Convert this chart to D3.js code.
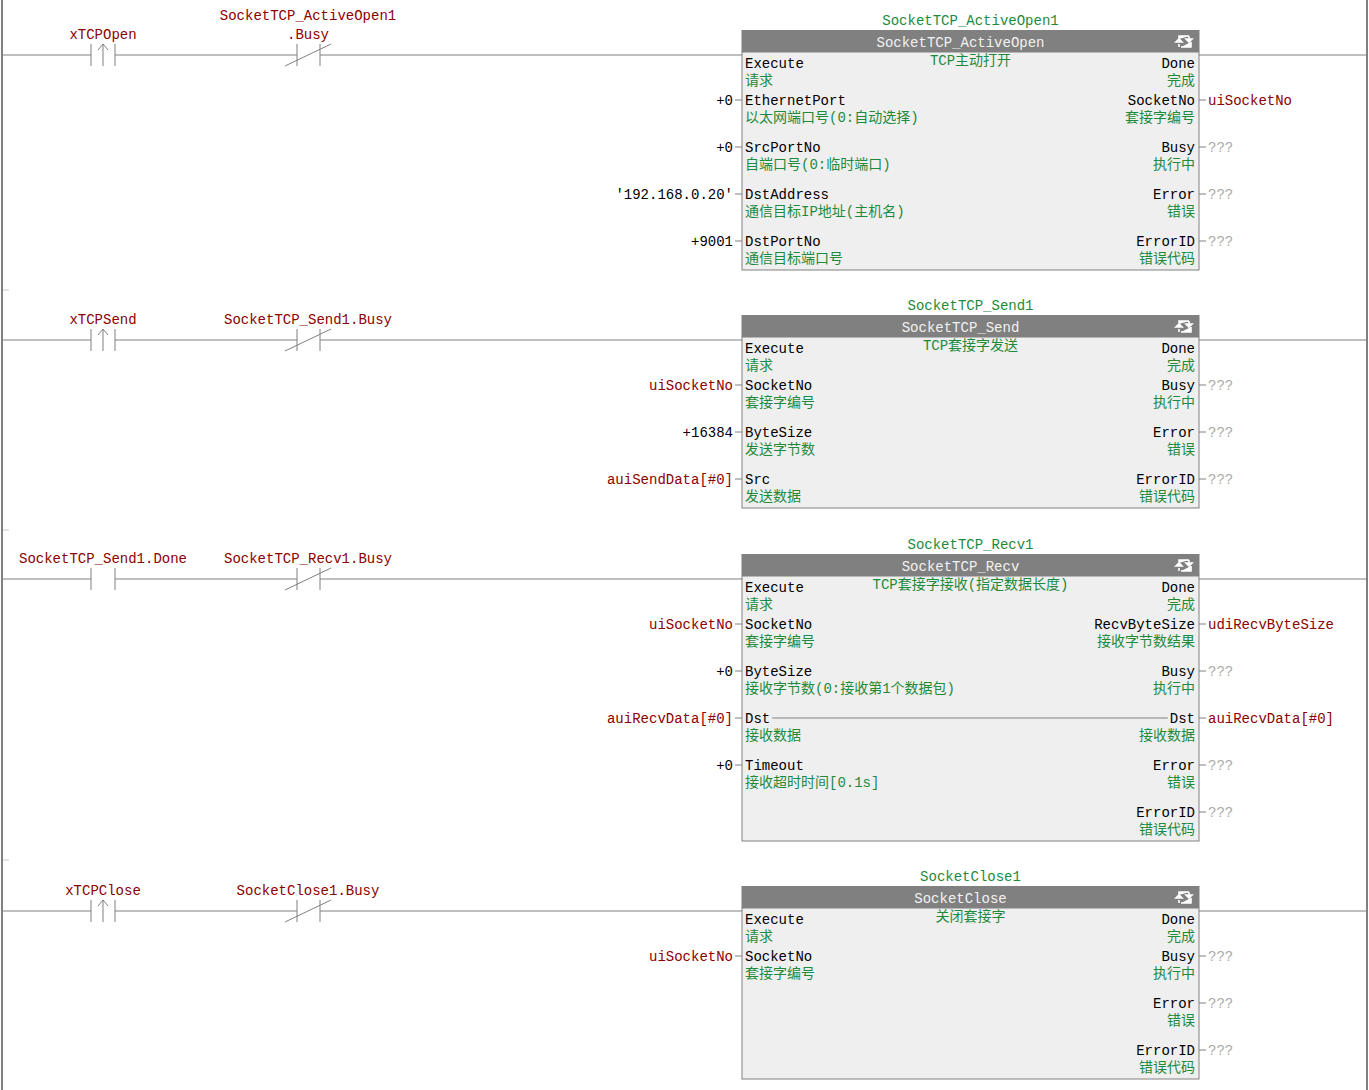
<!DOCTYPE html>
<html><head><meta charset="utf-8">
<script src="https://cdn.jsdelivr.net/npm/d3@7"></script>
<style>body{margin:0;background:#fff}svg text{font-family:"Liberation Mono","Noto Sans CJK SC",monospace;font-size:14px}</style>
</head><body><svg id="c" width="1369" height="1090"></svg>
<script>
// ---- data ----
const rungLines = [55, 340, 579, 911];
const rungSeparators = [290, 530, 860];
const contacts = [
  [{label:["xTCPOpen"], type:"rise"}, {label:["SocketTCP_ActiveOpen1", ".Busy"], type:"nc"}],
  [{label:["xTCPSend"], type:"rise"}, {label:["SocketTCP_Send1.Busy"], type:"nc"}],
  [{label:["SocketTCP_Send1.Done"], type:"no"}, {label:["SocketTCP_Recv1.Busy"], type:"nc"}],
  [{label:["xTCPClose"], type:"rise"}, {label:["SocketClose1.Busy"], type:"nc"}]
];
const instanceNames = ["SocketTCP_ActiveOpen1", "SocketTCP_Send1", "SocketTCP_Recv1", "SocketClose1"];
const blockTypes = ["SocketTCP_ActiveOpen", "SocketTCP_Send", "SocketTCP_Recv", "SocketClose"];
const blockComments = ["TCP主动打开", "TCP套接字发送", "TCP套接字接收(指定数据长度)", "关闭套接字"];
const inputs = [
  [["Execute","请求",null],["EthernetPort","以太网端口号(0:自动选择)","+0"],["SrcPortNo","自端口号(0:临时端口)","+0"],["DstAddress","通信目标IP地址(主机名)","'192.168.0.20'"],["DstPortNo","通信目标端口号","+9001"]],
  [["Execute","请求",null],["SocketNo","套接字编号","uiSocketNo"],["ByteSize","发送字节数","+16384"],["Src","发送数据","auiSendData[#0]"]],
  [["Execute","请求",null],["SocketNo","套接字编号","uiSocketNo"],["ByteSize","接收字节数(0:接收第1个数据包)","+0"],["Dst","接收数据","auiRecvData[#0]"],["Timeout","接收超时时间[0.1s]","+0"]],
  [["Execute","请求",null],["SocketNo","套接字编号","uiSocketNo"]]
];
const outputs = [
  [["Done","完成",null],["SocketNo","套接字编号","uiSocketNo"],["Busy","执行中","???"],["Error","错误","???"],["ErrorID","错误代码","???"]],
  [["Done","完成",null],["Busy","执行中","???"],["Error","错误","???"],["ErrorID","错误代码","???"]],
  [["Done","完成",null],["RecvByteSize","接收字节数结果","udiRecvByteSize"],["Busy","执行中","???"],["Dst","接收数据","auiRecvData[#0]"],["Error","错误","???"],["ErrorID","错误代码","???"]],
  [["Done","完成",null],["Busy","执行中","???"],["Error","错误","???"],["ErrorID","错误代码","???"]]
];
// ---- drawing ----
const svg = d3.select("#c");
const W = 1369, H = 1090;
const LINE = "#808080", RED = "#8b0000", GREEN = "#1e8a3c";
const x = d3.scaleLinear().domain([0,1]).range([742,1199]); // block span
const contactX = [103, 308];
const rowY = i => i === 0 ? 8 : 45 + (i-1)*47; // offset of pin row from rung line

svg.append("line").attr("x1",2).attr("x2",2).attr("y1",0).attr("y2",H).attr("stroke",LINE).attr("stroke-width",2);
svg.append("line").attr("x1",1367).attr("x2",1367).attr("y1",0).attr("y2",H).attr("stroke",LINE).attr("stroke-width",2);
rungSeparators.forEach(y=>svg.append("line").attr("x1",3).attr("x2",9).attr("y1",y).attr("y2",y).attr("stroke","#ccc"));

rungLines.forEach((ly, r) => {
  const g = svg.append("g");
  // rung wire
  const segs = [[3, contactX[0]-12],[contactX[0]+12, contactX[1]-11],[contactX[1]+12, x(0)],[x(1), 1366]];
  segs.forEach(s=>g.append("line").attr("x1",s[0]).attr("x2",s[1]).attr("y1",ly).attr("y2",ly).attr("stroke",LINE));
  contacts[r].forEach((c, k) => {
    const cx = contactX[k];
    const l = cx - (k?11:12), rr = cx + 12;
    g.append("line").attr("x1",l).attr("x2",l).attr("y1",ly-11).attr("y2",ly+11).attr("stroke",LINE);
    g.append("line").attr("x1",rr).attr("x2",rr).attr("y1",ly-11).attr("y2",ly+11).attr("stroke",LINE);
    if (c.type === "rise") {
      g.append("path").attr("d",`M${cx},${ly+11}V${ly-11}M${cx-5},${ly-5}L${cx},${ly-11}L${cx+5},${ly-5}`).attr("stroke",LINE).attr("fill","none");
    } else if (c.type === "nc") {
      g.append("line").attr("x1",cx-23).attr("x2",cx+23).attr("y1",ly+11).attr("y2",ly-11).attr("stroke",LINE);
    }
    c.label.forEach((t, j) => {
      g.append("text").attr("x",cx).attr("y",ly - 16 - (c.label.length-1-j)*19).attr("text-anchor","middle").attr("fill",RED).text(t);
    });
  });
  // block
  const nRows = Math.max(inputs[r].length, outputs[r].length);
  const bottom = ly + rowY(nRows-1) + 29;
  g.append("text").attr("x",(x(0)+x(1))/2).attr("y",ly-30).attr("text-anchor","middle").attr("fill",GREEN).text(instanceNames[r]);
  g.append("rect").attr("x",x(0)).attr("y",ly-3).attr("width",x(1)-x(0)).attr("height",bottom-ly+3).attr("fill","#efefef").attr("stroke",LINE);
  g.append("rect").attr("x",x(0)-0.5).attr("y",ly-25).attr("width",x(1)-x(0)+1).attr("height",22).attr("fill","#808080");
  g.append("text").attr("x",(x(0)+x(1))/2 - 10).attr("y",ly-8).attr("text-anchor","middle").attr("fill","#f2f2f2").text(blockTypes[r]);
  const ix = x(1)-14, iy = ly-14;
  g.append("path").attr("d",`M${ix-6},${iy-2}V${iy-5}H${ix+4}M${ix+4},${iy-5}V${iy-1}M${ix+1},${iy-2}H${ix+7}L${ix+4},${iy+1}Z M${ix+6},${iy+1}V${iy+6}H${ix-4}M${ix-6},${iy+3}V${iy+6}M${ix-9},${iy+1}H${ix-3}L${ix-6},${iy-2}Z`)
    .attr("stroke","#fff").attr("stroke-width",1.6).attr("fill","#fff");
  g.append("text").attr("x",(x(0)+x(1))/2).attr("y",ly+10).attr("text-anchor","middle").attr("fill",GREEN).text(blockComments[r]);
  inputs[r].forEach((p,i)=>{
    const y = ly + rowY(i);
    g.append("text").attr("x",x(0)+3).attr("y",y+5).attr("fill","#000").text(p[0]);
    g.append("text").attr("x",x(0)+3).attr("y",y+22).attr("fill",GREEN).text(p[1]);
    if (p[2]) {
      g.append("line").attr("x1",x(0)-7).attr("x2",x(0)).attr("y1",y).attr("y2",y).attr("stroke",LINE);
      g.append("text").attr("x",x(0)-9).attr("y",y+5).attr("text-anchor","end").attr("fill",/^[+']/.test(p[2])?"#000":RED).text(p[2]);
    }
  });
  outputs[r].forEach((p,i)=>{
    const y = ly + rowY(i);
    g.append("text").attr("x",x(1)-4).attr("y",y+5).attr("text-anchor","end").attr("fill","#000").text(p[0]);
    g.append("text").attr("x",x(1)-4).attr("y",y+22).attr("text-anchor","end").attr("fill",GREEN).text(p[1]);
    if (p[2]) {
      g.append("line").attr("x1",x(1)).attr("x2",x(1)+7).attr("y1",y).attr("y2",y).attr("stroke",LINE);
      g.append("text").attr("x",x(1)+9).attr("y",y+5).attr("fill",p[2]==="???"?"#aaa":RED).text(p[2]);
    }
    const inp = inputs[r][i];
    if (inp && inp[0] === p[0]) {
      g.append("line").attr("x1",x(0)+3+p[0].length*8.4+2).attr("x2",x(1)-4-p[0].length*8.4-2).attr("y1",y).attr("y2",y).attr("stroke",LINE);
    }
  });
});
</script></body></html>
